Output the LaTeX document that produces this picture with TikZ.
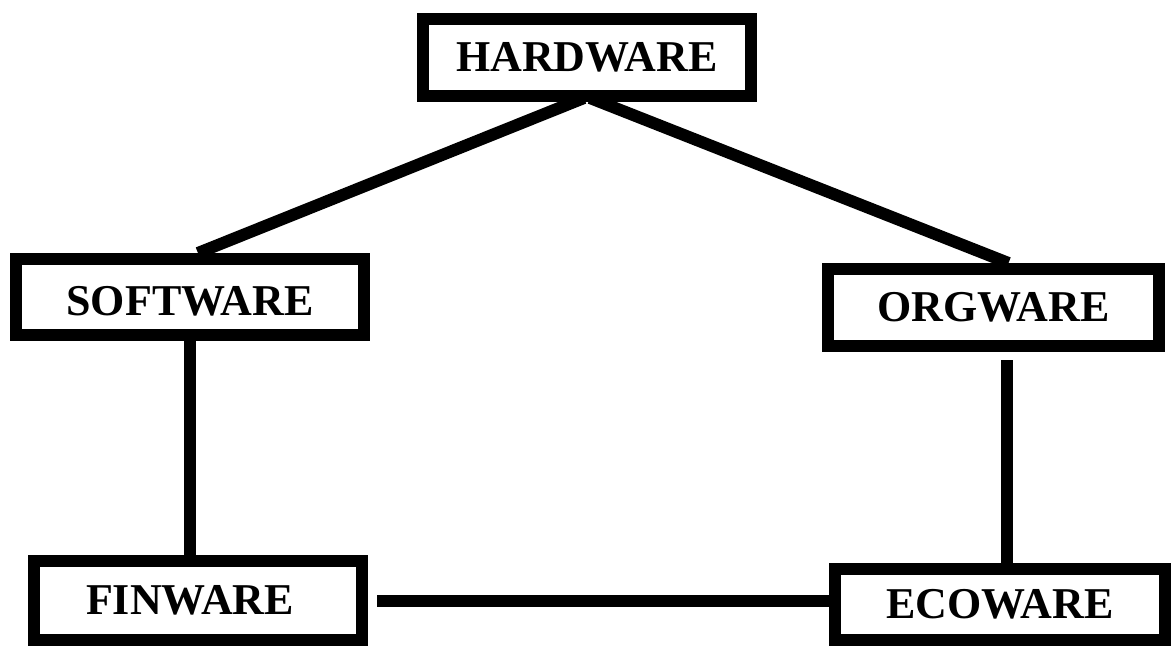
\documentclass[tikz,border=0pt]{standalone}
\usepackage{fontspec}
\setmainfont{Liberation Serif}
\usetikzlibrary{positioning}

\begin{document}
\begin{tikzpicture}[x=1pt, y=-1pt, font=\fontsize{44}{50}\selectfont\bfseries]
    \tikzstyle{ware} = [rectangle, draw=black, fill=white, line width=12pt, inner sep=0pt]
    \tikzstyle{link} = [line width=12pt, color=black]

    \useasboundingbox[fill=white] (0,0) rectangle (1175,646);

    \node [ware, minimum width=328pt, minimum height=77pt] (hard) at (587,57.5) {HARDWARE};
    \node [ware, minimum width=348pt, minimum height=76pt, text height=38pt] (soft) at (190,297) {SOFTWARE};
    \node [ware, minimum width=331pt, minimum height=77pt] (org) at (993.5,307.5) {ORGWARE};
    \node [ware, minimum width=328pt, minimum height=79pt] (fin) at (198,600.5) {FINWARE\hspace*{16pt}};
    \node [ware, minimum width=330pt, minimum height=71pt] (eco) at (1000,604.5) {ECOWARE};

    \draw [link] ([xshift=-3pt, yshift=4pt]hard.south) -- ([xshift=8pt]soft.north);
    \draw [link] ([xshift=3pt, yshift=4pt]hard.south) -- ([xshift=15pt]org.north);
    \draw [link] (soft.south) -- (soft.south |- fin.north);
    \draw [link] ([xshift=7pt]eco.north) -- ([xshift=7pt, yshift=-8pt]eco.north |- org.south);
    \draw [link] ([xshift=9pt]fin.east) -- (fin.east -| eco.west);
\end{tikzpicture}
\end{document}
